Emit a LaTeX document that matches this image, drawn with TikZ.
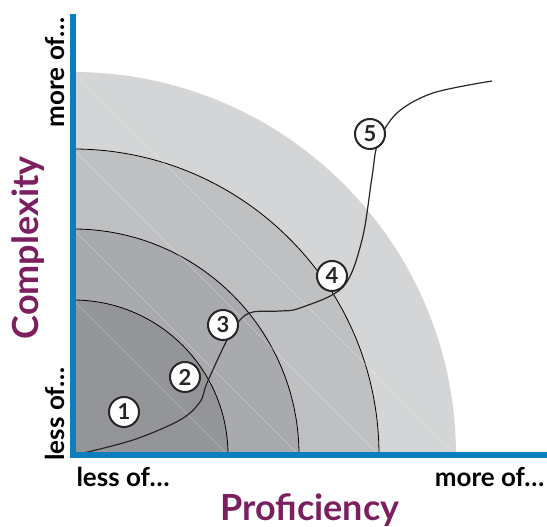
\documentclass[tikz,border=0pt]{standalone}
\usepackage{fontspec}
\setmainfont{Lato}
\usetikzlibrary{positioning,calc}
\definecolor{axisblue}{HTML}{0A7FC0}
\definecolor{plum}{HTML}{7B1F5F}
\definecolor{ringA}{HTML}{D4D5D6}
\definecolor{ringB}{HTML}{BFC0C2}
\definecolor{ringC}{HTML}{A9AAAD}
\definecolor{ringD}{HTML}{939598}

\begin{document}
\begin{tikzpicture}[
      x=1pt, y=1pt,
      axis/.style={draw=axisblue, line width=5.5pt},
      ring/.style={draw=black, line width=0.8pt},
      chord/.style={draw=white, opacity=0.35, line width=0.6pt},
      marker/.style={circle, draw=black!85, fill=white, line width=2pt, minimum size=30pt, inner sep=0pt, text=black!85, font=\bfseries\fontsize{22}{22}\selectfont},
      axislabel/.style={font=\bfseries\fontsize{26}{26}\selectfont},
      title/.style={text=plum, font=\bfseries\fontsize{36}{36}\selectfont}
    ]
    \useasboundingbox (0,0) rectangle (547,527);

    \coordinate (O) at (73,72);
    \coordinate (ytop) at (73,513);
    \coordinate (xend) at (547,72);

    % Quarter rings, outermost first
    \fill[ringA] (O) -- ++(383pt,0) arc[start angle=0, end angle=90, radius=383pt] -- cycle;
    \foreach \r/\c in {306/ringB, 226/ringC, 155/ringD} {
      \fill[\c] (O) -- ++(\r pt,0) arc[start angle=0, end angle=90, radius=\r pt] -- cycle;
      \draw[ring] ($(O)+(\r pt,0)$) arc[start angle=0, end angle=90, radius=\r pt];
    }
    \foreach \r in {383,306,226,155}
      \draw[chord] ($(O)+(0,\r pt)$) -- ($(O)+(\r pt,0)$);

    % Learning path
    \draw[black!85, line width=1.2pt] plot[smooth, tension=0.55] coordinates {
      (75,72) (133,87) (180,107) (200,125) (207,144) (227,187) (240,207) (253,215)
      (280,216) (300,219) (343,240) (362,287) (372,350) (378,384) (397,414)
      (433,434) (492,446)};

    % Axes
    \draw[axis] (ytop) -- (O) -- (xend);

    % Stage markers
    \node[marker] (m1) at (124,115) {1};
    \node[marker] (m2) at (185,150) {2};
    \node[marker] (m3) at (223,202) {3};
    \node[marker] (m4) at (332,251) {4};
    \node[marker] (m5) at (370,393) {5};

    % Labels
    \node[axislabel] (xless) at (123,50) {less of…};
    \node[axislabel, anchor=east] (xmore) at (548,50) {more of…};
    \node[axislabel, rotate=90] (yless) at (55,113) {less of…};
    \node[axislabel, rotate=90, anchor=east] (ymore) at (55,513) {more of…};
    \node[title, rotate=90] (complexity) at (28,279) {Complexity};
    \node[title] (proficiency) at (310,17) {Proficiency};

  \end{tikzpicture}
\end{document}
